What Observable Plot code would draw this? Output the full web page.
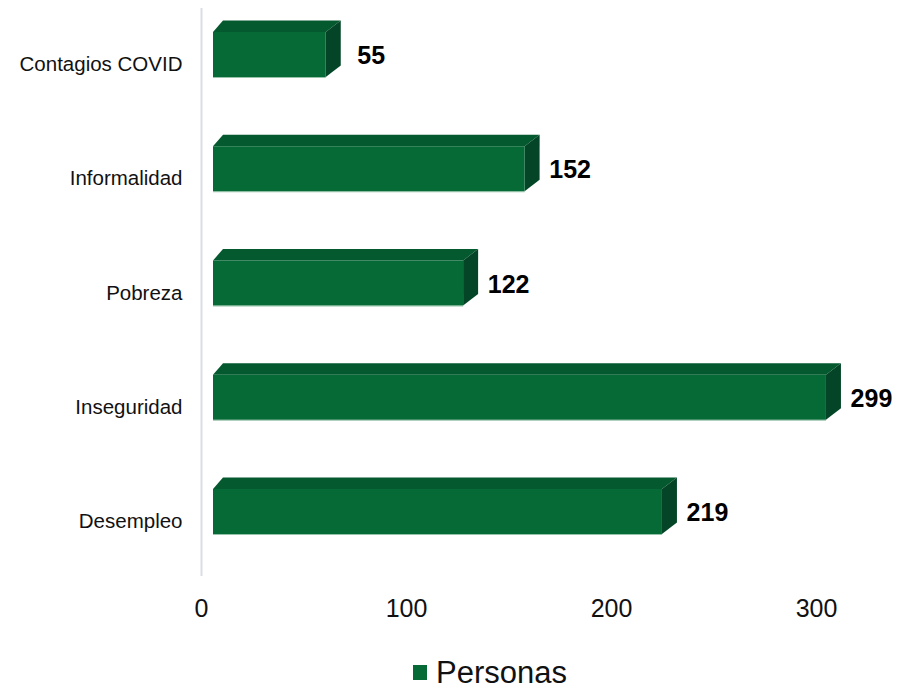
<!DOCTYPE html>
<html>
<head>
<meta charset="utf-8">
<script src="https://cdn.jsdelivr.net/npm/d3@7"></script>
<script src="https://cdn.jsdelivr.net/npm/@observablehq/plot@0.6"></script>
<style>
  body { margin: 0; background: #fff; font-family: "Liberation Sans", Arial, sans-serif; }
  #chart svg { display: block; }
  #legend { position: relative; width: 904px; height: 39px; }
  #legend .sw { position: absolute; left: 413px; top: 15px; width: 14px; height: 15px; background: #066a37; }
  #legend .lb { position: absolute; left: 436px; top: 7px; font-size: 31px; line-height: 31px; color: #111; }
</style>
</head>
<body>
<div id="chart"></div>
<div id="legend"><span class="sw"></span><span class="lb"></span></div>
<script>
// ---- data ----
const categories = ["Contagios COVID", "Informalidad", "Pobreza", "Inseguridad", "Desempleo"];
const values = [55, 152, 122, 299, 219];
const xTicks = [0, 100, 200, 300];
const seriesName = "Personas";

// ---- styling constants ----
const W = 904, H = 650;
const marginLeft = 201, marginRight = 67.5;
const xDomain = [0, 310];
const kx = (W - marginLeft - marginRight) / (xDomain[1] - xDomain[0]); // px per unit
const yRange = [54.5, 511.5];
const ky = (yRange[1] - yRange[0]) / (categories.length - 1);
const frontDx = 12;                 // front face offset from axis (px)
const halfH = 22.5 / ky;            // half height of front face (band units)
const depthUp = 11.5 / ky;          // 3D depth upwards
const backLeft = 10 / kx, backRight = 15 / kx; // 3D depth to the right

const colFront = "#066a37", colTop = "#05592e", colSide = "#034526";

const rows = categories.map((c, i) => ({cat: c, i, v: values[i]}));

const topFace = rows.flatMap(d => [
  {cat: d.cat, y: d.i - halfH, x1: 0, x2: d.v},
  {cat: d.cat, y: d.i - halfH - depthUp, x1: backLeft, x2: d.v + backRight}
]);
const sideFace = rows.flatMap(d => [
  {cat: d.cat, x: d.v, y1: d.i + halfH, y2: d.i - halfH},
  {cat: d.cat, x: d.v + backRight, y1: d.i + halfH - depthUp, y2: d.i - halfH - depthUp}
]);

const chart = Plot.plot({
  width: W,
  height: H,
  marginLeft, marginRight,
  marginTop: 8,
  marginBottom: 74,
  style: {fontFamily: "'Liberation Sans', Arial, sans-serif", color: "#111", background: "#fff"},
  x: {domain: xDomain, axis: null},
  y: {domain: [0, categories.length - 1], range: yRange, axis: null},
  marks: [
    Plot.ruleX([0], {stroke: "#dadde3", strokeWidth: 2}),
    Plot.areaX(topFace, {y: "y", x1: "x1", x2: "x2", z: "cat", fill: colTop, dx: frontDx}),
    Plot.areaY(sideFace, {x: "x", y1: "y1", y2: "y2", z: "cat", fill: colSide, dx: frontDx}),
    Plot.rect(rows, {x1: 0, x2: "v", y1: d => d.i - halfH, y2: d => d.i + halfH, fill: colFront, dx: frontDx}),
    Plot.ruleY(rows, {x1: 0, x2: "v", y: d => d.i + halfH, stroke: "#4f9a6e", strokeWidth: 1, strokeOpacity: 0.6, dx: frontDx}),
    Plot.text(rows, {x: "v", y: "i", text: d => String(d.v), textAnchor: "middle", dx: 57, dy: 1,
      fontSize: 25, fontWeight: "bold", fill: "#000"}),
    Plot.axisY(d3.range(categories.length), {anchor: "left", tickSize: 0, tickPadding: 19,
      tickFormat: i => categories[i], fontSize: 20.5, dy: 9.5, fill: "#111"}),
    Plot.axisX(xTicks, {anchor: "bottom", tickSize: 0, tickPadding: 23, fontSize: 25, fill: "#111"})
  ]
});
document.getElementById("chart").appendChild(chart);
document.querySelector("#legend .lb").textContent = seriesName;
</script>
</body>
</html>
